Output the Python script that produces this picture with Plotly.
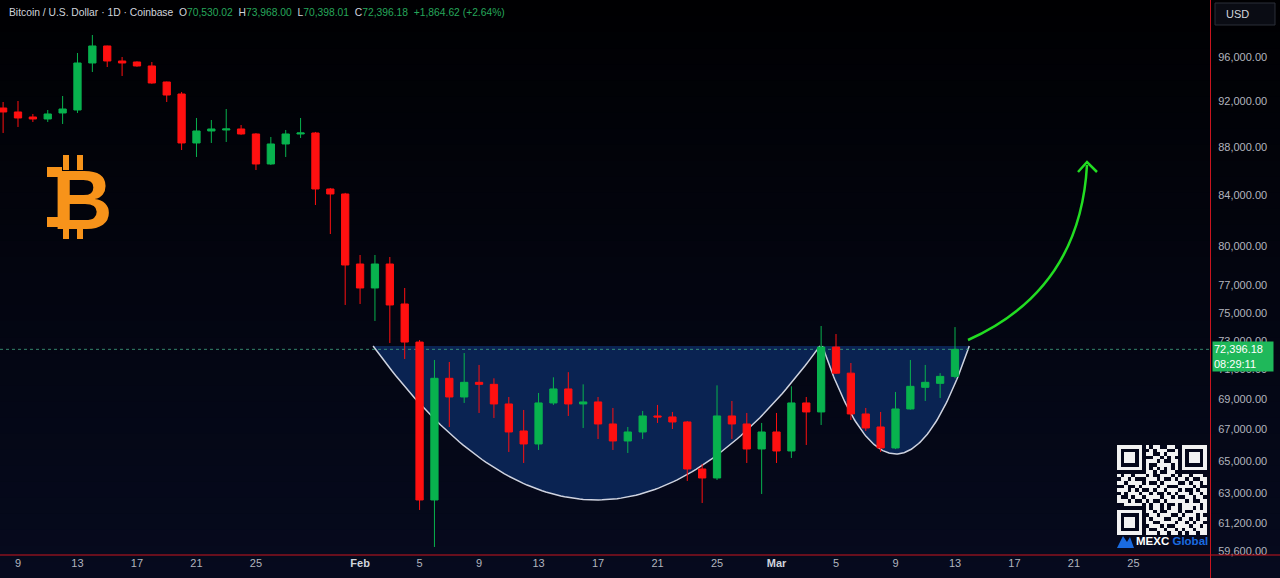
import numpy as np
import pandas as pd
import plotly.graph_objects as go

# ---------------- data ----------------
dates = pd.date_range("2026-01-08", "2026-03-13", freq="D")

opens = [91388, 91037, 90598, 90424, 90949, 91212, 95445, 97025, 95630, 95537,
         95170, 93711, 92630, 88354, 89383, 89469, 89555, 89124, 86581, 88268,
         89124, 89210, 84516, 84110, 78612, 76813, 78612, 75636, 72907, 62599,
         70400, 69143, 70126, 69991, 68678, 66910, 66076, 68745, 69680, 68678,
         68811, 67364, 66267, 66846, 67887, 67822, 67495, 64500, 63942, 67887,
         67364, 65758, 66846, 65631, 68745, 68150, 72557, 70751, 68018, 67169,
         65822, 68347, 69789, 70059, 70530.02]
highs = [91919, 92008, 90861, 91212, 92452, 96371, 98060, 97060, 96000, 95600,
         95537, 93750, 92811, 90511, 90336, 91300, 89901, 89200, 88866, 89469,
         90511, 89300, 84600, 84200, 79300, 79300, 79147, 76813, 73048, 71656,
         71518, 72138, 71313, 70400, 69143, 68281, 69411, 70468, 70819, 69991,
         69143, 68413, 67169, 68216, 68612, 68150, 67560, 64812, 69924, 68877,
         68084, 67430, 68084, 69856, 69143, 74045, 73474, 71450, 68413, 68150,
         69478, 71656, 71313, 70751, 73968.00]
lows = [89210, 89728, 90162, 90162, 89988, 90949, 94620, 95077, 94256, 95100,
        93550, 91919, 87757, 87167, 88354, 88439, 89050, 86078, 86498, 87167,
        88781, 83219, 80922, 75563, 75636, 74405, 72837, 71725, 61997, 59822,
        67169, 68745, 68084, 67756, 65568, 64875, 65695, 68612, 67887, 67104,
        66395, 65695, 65505, 66395, 67430, 67040, 63757, 62417, 63819, 66395,
        64875, 62963, 64875, 65189, 66012, 67299, 70700, 67625, 66910, 65568,
        65750, 68300, 68877, 69077, 70398.01]
closes = [91037, 90511, 90424, 90861, 91300, 95445, 97025, 95630, 95445, 95170,
          93620, 92541, 88354, 89383, 89555, 89555, 89124, 86581, 88268, 89124,
          89210, 84516, 84110, 78537, 76813, 78612, 75563, 72907, 62599, 70400,
          69143, 70126, 69991, 68678, 66846, 66076, 68745, 69680, 68678, 68811,
          67364, 66267, 66846, 67887, 67822, 67495, 64500, 63942, 67887, 67364,
          65758, 66846, 65631, 68745, 68150, 72557, 70751, 68018, 67104, 65822,
          68347, 69856, 70126, 70531.56, 72396.18]

last_price = 72396.18
y_ticks = [59600, 61200, 63000, 65000, 67000, 69000, 71000, 73000, 75000,
           77000, 80000, 84000, 88000, 92000, 96000]
x_tick_dates = ["2026-01-09", "2026-01-13", "2026-01-17", "2026-01-21", "2026-01-25",
                "2026-02-01", "2026-02-05", "2026-02-09", "2026-02-13", "2026-02-17",
                "2026-02-21", "2026-02-25", "2026-03-01", "2026-03-05", "2026-03-09",
                "2026-03-13", "2026-03-17", "2026-03-21", "2026-03-25"]
x_tick_labels = ["9", "13", "17", "21", "25", "Feb", "5", "9", "13", "17", "21", "25",
                 "Mar", "5", "9", "13", "17", "21", "25"]

# cup & handle pattern anchors
cup_left, cup_right = "2026-02-01 21:00", "2026-03-03 22:00"
cup_rim, cup_bottom = 72630, 62600
handle_left, handle_right = "2026-03-04 02:00", "2026-03-13 23:00"
handle_bottom = 65440

# ---------------- layout constants ----------------
W, H = 1280, 578
PW, PH = 1210, 555
X_RANGE = ["2026-01-07 18:58", "2026-03-30 03:29"]
Y_RANGE = [4.7735, 5.00616]

GREEN = "#08b24e"
RED = "#ff1010"
AXIS_RED = "#c8141e"
LABEL = "#b2b5be"


def px(x):
    return x / PW


def py(y):
    return 1 - y / PH


def ppath(points, close=False):
    s = "M " + " L ".join(f"{px(a):.5f},{py(b):.5f}" for a, b in points)
    return s + (" Z" if close else "")


def bowl(left, right, rim, bottom, n=120):
    t = np.linspace(-1, 1, n)
    l, r = pd.Timestamp(left), pd.Timestamp(right)
    xs = [l + (ti + 1) / 2 * (r - l) for ti in t]
    lp = np.log(rim) + (np.log(bottom) - np.log(rim)) * (1 - t ** 2)
    return xs, np.exp(lp)


fig = go.Figure()

# cup and handle fills + outlines (base axes, drawn beneath the candles)
for (l, r, b) in [(cup_left, cup_right, cup_bottom), (handle_left, handle_right, handle_bottom)]:
    xs, ys = bowl(l, r, cup_rim, b)
    fig.add_trace(go.Scatter(x=xs, y=ys, mode="lines", fill="toself",
                             fillcolor="#0a2352", line=dict(width=0),
                             hoverinfo="skip", showlegend=False))
    fig.add_trace(go.Scatter(x=xs, y=ys, mode="lines",
                             line=dict(color="#cfd3e0", width=1.5),
                             hoverinfo="skip", showlegend=False))

# last price dotted line
fig.add_trace(go.Scatter(x=X_RANGE, y=[last_price, last_price], mode="lines",
                         line=dict(color="rgba(70,175,135,0.75)", width=1, dash="dot"),
                         hoverinfo="skip", showlegend=False))

# candles on an overlaying y axis so they sit above the pattern fill
fig.add_trace(go.Candlestick(
    x=dates, open=opens, high=highs, low=lows, close=closes, yaxis="y3",
    increasing=dict(line=dict(color=GREEN, width=1), fillcolor=GREEN),
    decreasing=dict(line=dict(color=RED, width=1), fillcolor=RED),
    hoverinfo="skip", showlegend=False, whiskerwidth=0))

# QR-like decoration
qr_rows = [
    "1111111" + "0" + "101100110" + "0" + "1111111",
    "1000001" + "0" + "010111001" + "0" + "1000001",
    "1011101" + "0" + "110010111" + "0" + "1011101",
    "1011101" + "0" + "001101010" + "0" + "1011101",
    "1011101" + "0" + "111010011" + "0" + "1011101",
    "1000001" + "0" + "100111101" + "0" + "1000001",
    "1111111" + "0" + "101010101" + "0" + "1111111",
    "00000000" + "110100110" + "00000000",
    "1011011101001110101101110",
    "0110100011101001011010011",
    "1101111010010111100101101",
    "0010010111101100011110100",
    "1110101001011011101001011",
    "0101110110100101011101101",
    "1001011011110110100110110",
    "1110100101001011111010011",
    "0011111010110100101111101",
    "00000000" + "10110101101110101",
    "1111111" + "0" + "11010011101001111",
    "1000001" + "0" + "01101110010111010",
    "1011101" + "0" + "10111001101101011",
    "1011101" + "0" + "11001111011010110",
    "1011101" + "0" + "01110100111101101",
    "1000001" + "0" + "10011011010110111",
    "1111111" + "0" + "11101101101011011",
]
qr = [[int(c) for c in row] for row in qr_rows]
fig.add_trace(go.Heatmap(z=qr, xaxis="x2", yaxis="y2", showscale=False,
                         colorscale=[[0, "#04071a"], [1, "#f2f2f2"]], zmin=0, zmax=1,
                         hoverinfo="skip"))

# ---------------- shapes ----------------
shapes = []
# background gradient bands
n_b = 36
top_c = np.array([0, 0, 2])
bot_c = np.array([6, 10, 30])
y_top, y_bot = 1.0, 1 - H / PH
for i in range(n_b):
    f = (i + 0.5) / n_b
    c = top_c + (bot_c - top_c) * f
    shapes.append(dict(type="rect", xref="paper", yref="paper", layer="below",
                       x0=-0.01, x1=W / PW + 0.01,
                       y0=y_top - (y_top - y_bot) * (i + 1) / n_b - 0.002,
                       y1=y_top - (y_top - y_bot) * i / n_b,
                       fillcolor=f"rgb({c[0]:.0f},{c[1]:.0f},{c[2]:.0f})",
                       line=dict(width=0)))

# red frame lines extending through the axis strips
shapes.append(dict(type="line", xref="paper", yref="paper",
                   x0=px(1210.5), x1=px(1210.5), y0=py(H + 2), y1=py(-2),
                   line=dict(color=AXIS_RED, width=1)))
shapes.append(dict(type="line", xref="paper", yref="paper",
                   x0=px(0), x1=px(W + 2), y0=py(555), y1=py(555),
                   line=dict(color=AXIS_RED, width=1)))

# bitcoin logo bars/serifs
ORANGE = "#f7931a"
for (x0, x1, y0, y1) in [(63, 69, 155, 170), (77, 83, 155, 170),
                         (63, 69, 224, 239), (77, 83, 224, 239),
                         (47, 62, 167, 177), (47, 62, 217, 227)]:
    shapes.append(dict(type="rect", xref="paper", yref="paper",
                       x0=px(x0), x1=px(x1), y0=py(y1), y1=py(y0),
                       fillcolor=ORANGE, line=dict(width=0)))

# green arrow
p0, c1, p2 = (968, 340), (1080, 290), (1087, 165)
shapes.append(dict(type="path", xref="paper", yref="paper",
                   path=f"M {px(p0[0]):.5f},{py(p0[1]):.5f} Q {px(c1[0]):.5f},{py(c1[1]):.5f} {px(p2[0]):.5f},{py(p2[1]):.5f}",
                   line=dict(color="#22dd22", width=2.5)))
shapes.append(dict(type="path", xref="paper", yref="paper",
                   path=ppath([(1078, 172), (1087, 162), (1097, 172)]),
                   line=dict(color="#22dd22", width=2.5)))

# USD box
shapes.append(dict(type="rect", xref="paper", yref="paper",
                   x0=px(1215), x1=px(1275), y0=py(25), y1=py(3),
                   fillcolor="#0a0c14", line=dict(color="#2a2e39", width=1)))

# MEXC mountain
shapes.append(dict(type="path", xref="paper", yref="paper",
                   path=ppath([(1117, 548), (1123, 536), (1127, 542), (1130, 537), (1134, 548)], close=True),
                   fillcolor="#1a6be0", line=dict(width=0)))

# ---------------- annotations ----------------
g = "color:#26a65b"
header = ("Bitcoin / U.S. Dollar · 1D · Coinbase\u00a0\u00a0"
          f"O<span style='{g}'>70,530.02</span>\u00a0\u00a0"
          f"H<span style='{g}'>73,968.00</span>\u00a0\u00a0"
          f"L<span style='{g}'>70,398.01</span>\u00a0\u00a0"
          f"C<span style='{g}'>72,396.18</span>\u00a0\u00a0"
          f"<span style='{g}'>+1,864.62 (+2.64%)</span>")
annotations = [
    dict(text=header, x=px(7), y=py(13), xref="paper", yref="paper",
         xanchor="left", yanchor="middle", showarrow=False,
         font=dict(family="Liberation Sans", size=10.3, color="#d1d4dc")),
    dict(text="<b>B</b>", x=px(82.5), y=py(199.5), xref="paper", yref="paper",
         xanchor="center", yanchor="middle", showarrow=False,
         font=dict(family="Liberation Sans", size=84, color=ORANGE)),
    dict(text="USD", x=px(1224), y=py(14), xref="paper", yref="paper",
         xanchor="left", yanchor="middle", showarrow=False,
         font=dict(family="Liberation Sans", size=11, color="#d1d4dc")),
    dict(text=f"{last_price:,.2f}<br>08:29:11", x=px(1212), y=py(356.5),
         xref="paper", yref="paper", xanchor="left", yanchor="middle",
         showarrow=False, align="left", bgcolor="#1fb85a", width=58, height=27,
         borderpad=1,
         font=dict(family="Liberation Sans", size=11, color="white")),
    dict(text="<b>MEXC</b> <b><span style='color:#1a6be0'>Global</span></b>",
         x=px(1134), y=py(541), xref="paper", yref="paper",
         xanchor="left", yanchor="middle", showarrow=False,
         font=dict(family="Liberation Sans", size=11.5, color="white")),
]

tick_text_x = [f"<b><span style='color:#d1d4dc'>{t}</span></b>" if t in ("Feb", "Mar") else t
               for t in x_tick_labels]

fig.update_layout(
    width=W, height=H, autosize=False,
    margin=dict(l=0, r=W - PW, t=0, b=H - PH),
    paper_bgcolor="#05081c", plot_bgcolor="rgba(0,0,0,0)",
    showlegend=False, shapes=shapes, annotations=annotations,
    xaxis=dict(type="date", range=X_RANGE, showgrid=False, zeroline=False,
               showline=False,
               tickvals=x_tick_dates, ticktext=tick_text_x, ticks="",
               tickfont=dict(family="Liberation Sans", size=11, color=LABEL),
               rangeslider=dict(visible=False), fixedrange=True),
    yaxis=dict(type="log", range=Y_RANGE, side="right", showgrid=False,
               zeroline=False, showline=False,
               tickvals=y_ticks, ticktext=[f"{v:,.2f}" for v in y_ticks],
               ticks="outside", ticklen=5, tickcolor="rgba(0,0,0,0)",
               tickfont=dict(family="Liberation Sans", size=11, color=LABEL),
               fixedrange=True),
    yaxis3=dict(type="log", range=Y_RANGE, overlaying="y", side="right",
                visible=False, showgrid=False, zeroline=False, fixedrange=True),
    xaxis2=dict(domain=[px(1117), px(1207)], anchor="y2", visible=False,
                fixedrange=True),
    yaxis2=dict(domain=[py(535), py(445)], anchor="x2", visible=False,
                autorange="reversed", fixedrange=True),
)

fig.write_html("out.html", config={"displayModeBar": False},
               post_script="document.body.style.margin='0px';document.body.style.overflow='hidden';")
